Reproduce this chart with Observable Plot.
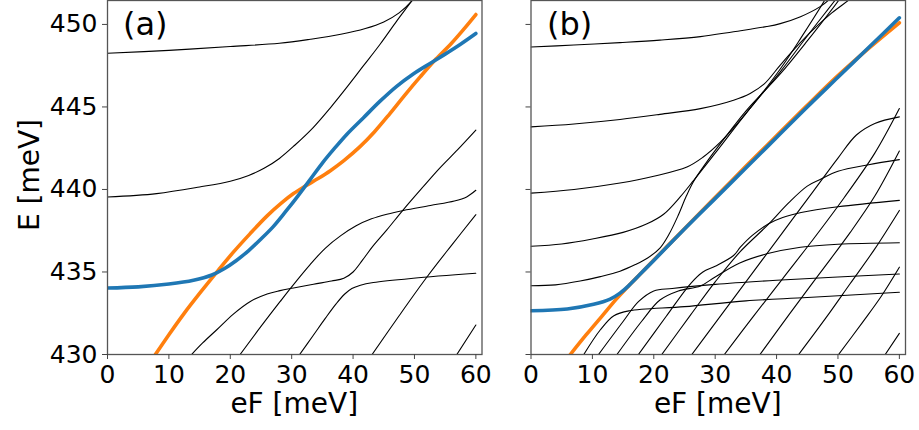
<!DOCTYPE html>
<html><head><meta charset="utf-8">
<script src="https://cdn.jsdelivr.net/npm/d3@7"></script>
<script src="https://cdn.jsdelivr.net/npm/@observablehq/plot@0.6"></script>
<style>
body{margin:0;background:#fff;}
#wrap{position:relative;width:919px;height:430px;font-family:"DejaVu Sans";}
#wrap svg{position:absolute;top:0;}
</style></head><body><div id="wrap"></div>
<script>
const xTicks = [0, 10, 20, 30, 40, 50, 60];
const yTicks = [430, 435, 440, 445, 450];
const panelLabels = ["(a)", "(b)"];
const xLabel = "eF [meV]";
const yLabel = "E [meV]";

// ---- panel (a) ----
const aBlue = [[0,434.03],[5,434.1],[10,434.27],[14,434.5],[17,434.82],[19,435.2],[21,435.7],[23,436.3],[25,437.0],[27,437.75],[29,438.65],[31,439.6],[33,440.6],[35,441.6],[37,442.5],[39,443.35],[41.7,444.35],[44.4,445.35],[47.1,446.25],[49.8,447.0],[52.6,447.65],[55,448.2],[57.5,448.8],[60,449.45]];
const aOrange = [[7.8,430],[10,431.2],[12.4,432.45],[15,433.7],[18.1,435.13],[20.5,436.2],[23.2,437.31],[26,438.4],[28.4,439.2],[30.3,439.75],[32.3,440.22],[34.3,440.66],[36.3,441.14],[38.5,441.75],[41,442.55],[43.5,443.5],[46,444.6],[48.5,445.75],[51,446.85],[53.5,447.9],[56,448.85],[58,449.7],[60,450.6]];
const aLevel1 = [[0,448.25],[10,448.43],[20,448.66],[28,448.86],[33,449.1],[38,449.4],[42,449.75],[45,450.15],[47.5,450.7],[49.5,451.4],[50.5,451.9]];
const aLevel2 = [[0,439.54],[8,439.75],[15,440.15],[20,440.5],[23,440.85],[25.5,441.28],[28,441.88],[30.5,442.68],[33.5,443.75],[36.3,444.95],[39,446.2],[41.7,447.5],[44.4,448.8],[47.1,450.2],[49.8,451.55],[51,452.2]];
const aLevel3 = [[13.7,430],[15.5,430.7],[17.8,431.5],[20.5,432.45],[23.2,433.2],[26,433.67],[28.1,433.87],[30.3,434.03],[33.55,434.26],[36.5,434.45],[38.5,434.62],[40,435.0],[41.5,435.7],[43.2,436.55],[45.5,437.55],[48.2,438.78],[51.5,440.2],[54,441.25],[57,442.4],[60,443.6]];
const aLevel4 = [[21.6,430],[25,431.7],[28.1,433.2],[30,434.1],[33,435.45],[35.5,436.45],[38,437.2],[40.5,437.8],[43,438.22],[45.5,438.5],[48.2,438.73],[52.6,439.03],[56.5,439.3],[58.5,439.55],[60,439.95]];
const aLevel5 = [[31.3,430],[33.5,431.15],[35.5,432.2],[37.2,433.05],[38.6,433.65],[39.8,434.0],[41.2,434.2],[43.3,434.36],[49.8,434.62],[60,434.92]];
const aLevel6 = [[43.1,430],[47.5,432.35],[52,434.68],[56,436.6],[60,438.47]];
const aLevel7 = [[56.9,430],[60,431.79]];

// ---- panel (b) ----
const bBlue = [[0,432.65],[5.9,432.76],[10.2,433.04],[12.9,433.36],[14.5,433.72],[16,434.2],[18,434.95],[20,435.7],[25,437.6],[29.7,439.34],[35,441.3],[40,443.15],[45,445.0],[50,446.8],[55,448.6],[60,450.4]];
const bOrange = [[6.4,430],[9,431.2],[11.5,432.3],[14,433.4],[16,434.2],[18,434.95],[20,435.72],[25,437.62],[29.7,439.4],[35,441.4],[40,443.25],[45,445.1],[50,446.9],[55,448.55],[60,450.1]];
const bLevel1 = [[0,448.63],[7,448.75],[14.5,448.9],[21,449.05],[27.6,449.26],[33,449.56],[38.4,449.87],[40.6,450.05],[43.9,450.47],[47.1,451.08],[48.7,451.55],[49.5,451.9]];
const bLevel2 = [[0,443.79],[7,443.97],[14.5,444.24],[21,444.55],[27.6,444.9],[33,445.41],[35.7,445.82],[38,446.4],[40.6,447.54],[43,448.55],[46,449.7],[49,450.7],[52,451.55],[53,451.9]];
const bLevel3 = [[0,439.78],[7,440.0],[14.5,440.39],[20,440.8],[25.4,441.36],[28,441.95],[30.8,442.85],[33.5,443.95],[36.3,445.2],[40.6,447.3],[44,449.2],[47.9,451.5],[49,452.2]];
const bLevel4 = [[0,436.56],[5,436.7],[10,437.0],[15,437.4],[18.9,437.92],[21.6,438.5],[24.3,439.55],[26.5,440.55],[30,442.2],[35,444.6],[40.6,447.13],[45,449.3],[49.6,451.5],[51,452.2]];
const bLevel5 = [[0,434.17],[4,434.22],[8,434.45],[11.3,434.72],[14.5,435.05],[17,435.45],[19,435.85],[21,436.45],[22.5,437.3],[24,438.45],[25.3,439.6],[26.5,440.5],[28.5,441.6],[31,442.85],[35,444.75],[40.6,447.0],[45,449.0],[50.2,451.5],[51.5,452.2]];
const bFan0 = [[8.6,430],[11.3,431.5],[13.5,432.35],[16,432.65],[25,432.9],[35,433.25],[45,433.45],[60,433.77]];
const bFan1 = [[11,430],[15,432],[17.5,433.2],[20,433.85],[23,434.0],[30,434.25],[40,434.5],[50,434.7],[60,434.88]];
const bFan2 = [[14,430],[18,432],[21,433.3],[24,433.85],[27.6,434.15],[30,434.7],[34,435.55],[38.4,436.1],[43.9,436.5],[50,436.68],[60,436.77]];
const bFan3 = [[17.5,430],[22,432.3],[26,434.3],[28,435.0],[30,435.35],[33,436.0],[34.1,436.5],[36,437.2],[38.7,437.92],[41,438.3],[44,438.6],[50,438.95],[60,439.34]];
const bFan4 = [[21.3,430],[26,432.4],[30,434.4],[34,436.2],[38.7,437.9],[42,439.2],[45,440.2],[47.1,440.6],[50,441.1],[55,441.5],[60,441.81]];
const bFan5 = [[26.2,430],[31,432.4],[36,434.9],[41,437.4],[46,439.9],[50,441.9],[53,443.3],[56,444.0],[60,444.4]];
const bFan6 = [[31.5,430],[36,432.2],[41,434.6],[46,437.0],[51,439.5],[56,442.2],[60,444.9]];
const bFan7 = [[37.3,430],[42,432.4],[47,434.9],[52,437.4],[56,439.6],[60,442.33]];
const bFan8 = [[43.6,430],[48,432.2],[52,434.3],[56,436.4],[60,438.73]];
const bFan9 = [[50.1,430],[54,431.95],[57,433.5],[60,435.29]];
const bFan10 = [[57.7,430],[60,431.28]];

const aBlack = [aLevel1, aLevel2, aLevel3, aLevel4, aLevel5, aLevel6, aLevel7];
const bBlack = [bLevel1, bLevel2, bLevel3, bLevel4, bLevel5, bFan0, bFan1, bFan2, bFan3, bFan4, bFan5, bFan6, bFan7, bFan8, bFan9, bFan10];

function panel({blue, orange, blacks, width, ml, mr, showY, label}) {
  const rows = blacks.flatMap((c, i) => c.map(([x, y]) => ({x, y, id: i})));
  return Plot.plot({
    width, height: 430,
    marginLeft: ml, marginRight: mr, marginTop: 0, marginBottom: 76,
    x: {domain: [0, 61]},
    y: {domain: [430, 451.45]},
    style: {fontFamily: "DejaVu Sans", fontSize: "25px", color: "#000", background: "transparent", overflow: "visible"},
    marks: [
      Plot.line(rows, {x: "x", y: "y", z: "id", stroke: "#000", strokeWidth: 1.1, curve: "catmull-rom", clip: true}),
      Plot.line(orange, {x: d => d[0], y: d => d[1], stroke: "#ff7f0e", strokeWidth: 3.6, curve: "catmull-rom", clip: true}),
      Plot.line(blue, {x: d => d[0], y: d => d[1], stroke: "#1f77b4", strokeWidth: 3.6, curve: "catmull-rom", clip: true}),
      Plot.frame({stroke: "#555", strokeWidth: 1.3}),
      Plot.axisX({ticks: xTicks, tickSize: 5, tickPadding: 6, label: null, stroke: "#444", fontSize: 25}),
      Plot.axisY({ticks: yTicks, tickSize: 5, tickPadding: 5, label: null, stroke: "#444", fontSize: 25, tickFormat: showY ? (d => String(d)) : (() => "")})
    ]
  });
}

const wrap = document.getElementById("wrap");
const svgA = panel({blue: aBlue, orange: aOrange, blacks: aBlack, width: 500, ml: 107, mr: 18.5, showY: true, label: panelLabels[0]});
const svgB = panel({blue: bBlue, orange: bOrange, blacks: bBlack, width: 419, ml: 30.5, mr: 14, showY: false, label: panelLabels[1]});
svgA.style.left = "0px";
svgB.style.left = "500px";
wrap.appendChild(svgA);
wrap.appendChild(svgB);

function addText(svg, x, y, txt, size, anchor, rotate) {
  const t = d3.select(svg).append("text")
    .attr("font-family", "DejaVu Sans").attr("font-size", size).attr("fill", "#000")
    .attr("text-anchor", anchor).text(txt);
  if (rotate) t.attr("transform", `translate(${x},${y}) rotate(-90)`);
  else t.attr("x", x).attr("y", y);
}
addText(svgA, (107 + 481.5) / 2, 413, xLabel, 28, "middle", false);
addText(svgB, (30.5 + 405) / 2, 413, xLabel, 28, "middle", false);
addText(svgA, 39, 175, yLabel, 28, "middle", true);
addText(svgA, 123, 35, panelLabels[0], 32, "start", false);
addText(svgB, 47, 35, panelLabels[1], 32, "start", false);
</script></body></html>
